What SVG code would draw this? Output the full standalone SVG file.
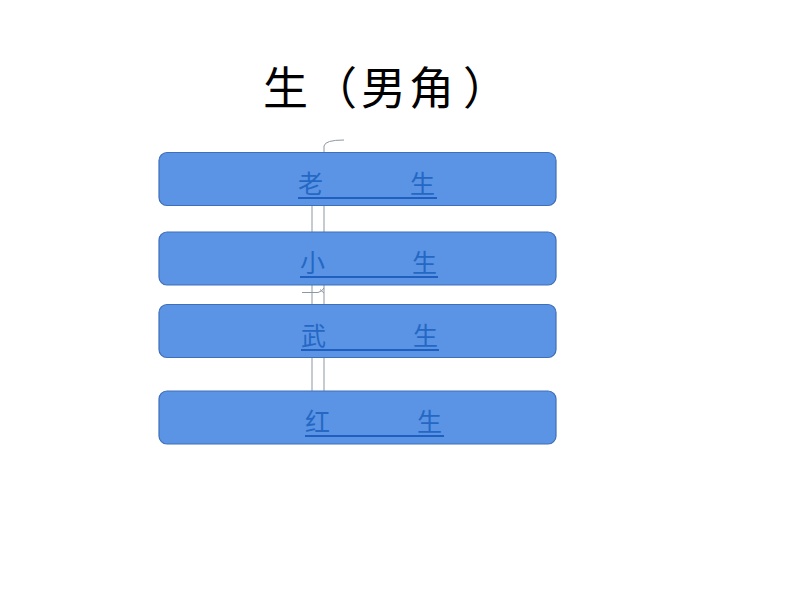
<svg xmlns="http://www.w3.org/2000/svg" width="794" height="596" viewBox="0 0 794 596">
<style>
.box{fill:#5b94e5;stroke:#3f6fb8;stroke-width:1.2}
.lbl{font-family:"Noto Sans CJK SC","Noto Sans CJK JP",sans-serif;font-size:25px;fill:#2468c4}
.ul{stroke:#1f5fc0;stroke-width:2}
.con{fill:none;stroke:#8e97a3;stroke-width:1}
.title{font-family:"Noto Sans CJK SC","Noto Sans CJK JP",serif;font-size:45px;fill:#000}
</style>
<rect width="794" height="596" fill="#fff"/>
<text class="title" x="263 312 361 409 463" y="105">生（男角）</text>
<g id="connectors">
<path class="con" d="M344,140 Q325,140 324,146 L324,392"/>
<path class="con" d="M312,200 L312,392"/>
<path class="con" d="M302,292.5 L318,292.5 Q322,291.5 324,288"/>
<path class="con" d="M320,289.5 L324,293"/>
</g>
<g id="node-laosheng">
<rect class="box" x="159" y="152.5" width="397" height="53" rx="8"/>
<text class="lbl" x="298" y="193">老</text>
<text class="lbl" x="410" y="193">生</text>
<line class="ul" x1="298" y1="198" x2="437" y2="198"/>
</g>
<g id="node-xiaosheng">
<rect class="box" x="159" y="232" width="397" height="53" rx="8"/>
<text class="lbl" x="300" y="272">小</text>
<text class="lbl" x="412" y="272">生</text>
<line class="ul" x1="300" y1="277" x2="438" y2="277"/>
</g>
<g id="node-wusheng">
<rect class="box" x="159" y="304.5" width="397" height="53" rx="8"/>
<text class="lbl" x="301" y="345">武</text>
<text class="lbl" x="413" y="345">生</text>
<line class="ul" x1="301" y1="350" x2="439" y2="350"/>
</g>
<g id="node-hongsheng">
<rect class="box" x="159" y="391" width="397" height="53" rx="8"/>
<text class="lbl" x="305" y="431">红</text>
<text class="lbl" x="417" y="431">生</text>
<line class="ul" x1="305" y1="436" x2="444" y2="436"/>
</g>
</svg>
